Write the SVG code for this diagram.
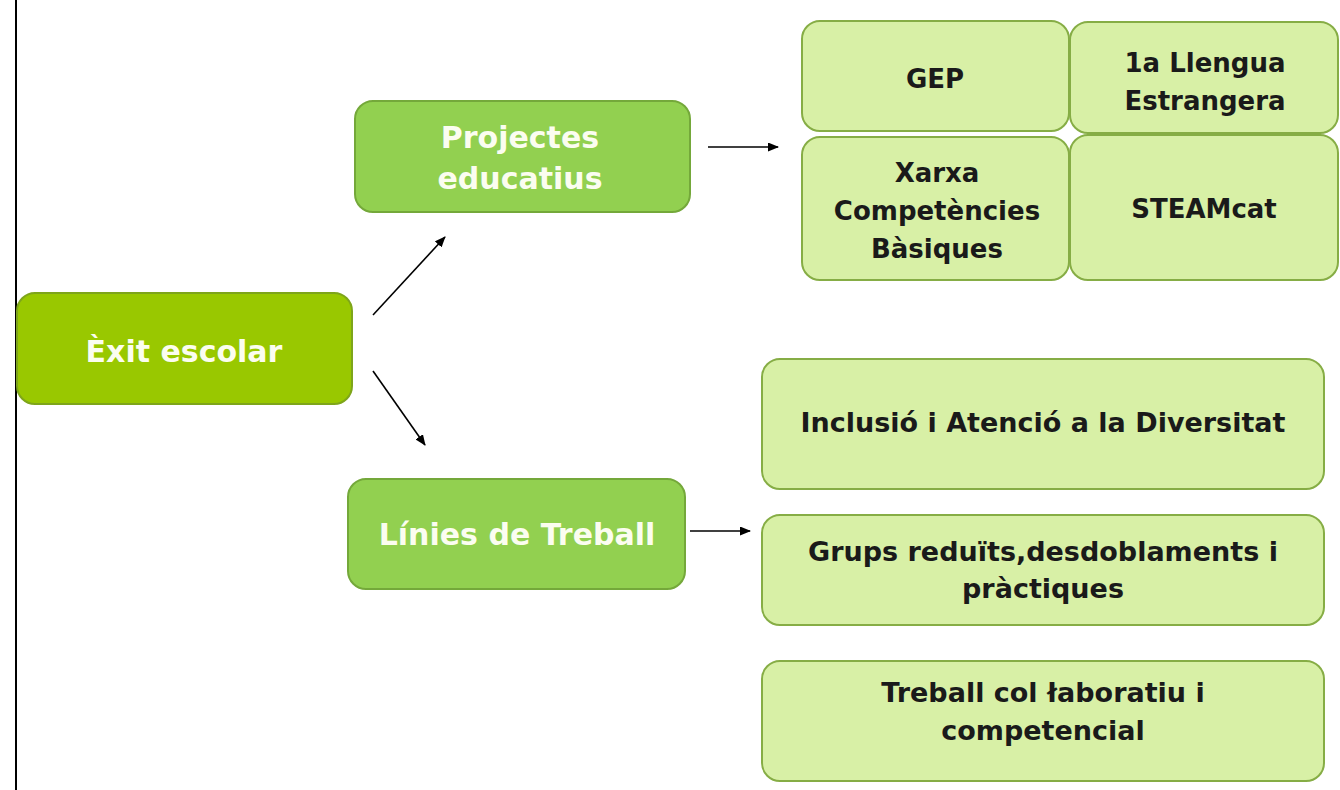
<svg xmlns="http://www.w3.org/2000/svg" width="1340" height="790" viewBox="0 0 1340 790">
<style>
.t{font-family:"DejaVu Sans","Liberation Sans",Arial,sans-serif;font-weight:bold;text-anchor:middle}
.w{fill:#fbfdf0;font-size:30px}
.d{fill:#1a1a1a;font-size:26px}
.e{fill:#1a1a1a;font-size:27px}
.main{fill:#99c800;stroke:#7ea51a;stroke-width:2}
.mid{fill:#92d050;stroke:#74a83a;stroke-width:2}
.leaf{fill:#d8f0a6;stroke:#86ad45;stroke-width:2}
.c{stroke:#000;stroke-width:1.6;fill:none;marker-end:url(#ah)}
</style>
<defs>
<marker id="ah" markerWidth="11" markerHeight="9" refX="10" refY="4.5" orient="auto" markerUnits="userSpaceOnUse">
<path d="M0,0 L11,4.5 L0,9 Z" fill="#000"/>
</marker>
</defs>
<rect width="1340" height="790" fill="#fff"/>
<line x1="16" y1="0" x2="16" y2="790" stroke="#000" stroke-width="2"/>
<g id="connectors">
<line class="c" x1="373" y1="315" x2="445" y2="237"/>
<line class="c" x1="373" y1="371" x2="425" y2="445"/>
<line class="c" x1="708" y1="147" x2="778" y2="147"/>
<line class="c" x1="690" y1="531" x2="750" y2="531"/>
</g>
<g id="exit"><rect class="main" x="17" y="293" width="335" height="111" rx="18"/><text class="t w" x="184" y="362">Èxit escolar</text></g>
<g id="projectes"><rect class="mid" x="355" y="101" width="335" height="111" rx="18"/><text class="t w" x="520" y="148">Projectes</text><text class="t w" x="520" y="189">educatius</text></g>
<g id="linies"><rect class="mid" x="348" y="479" width="337" height="110" rx="18"/><text class="t w" x="517" y="545">Línies de Treball</text></g>
<g id="gep"><rect class="leaf" x="802" y="21" width="267" height="110" rx="18"/><text class="t d" x="935" y="88">GEP</text></g>
<g id="llengua"><rect class="leaf" x="1070" y="22" width="268" height="111" rx="18"/><text class="t d" x="1205" y="72">1a Llengua</text><text class="t d" x="1205" y="110">Estrangera</text></g>
<g id="xarxa"><rect class="leaf" x="802" y="137" width="267" height="143" rx="18"/><text class="t d" x="937" y="182">Xarxa</text><text class="t d" x="937" y="220">Competències</text><text class="t d" x="937" y="258">Bàsiques</text></g>
<g id="steamcat"><rect class="leaf" x="1070" y="135" width="268" height="145" rx="18"/><text class="t d" x="1204" y="218">STEAMcat</text></g>
<g id="inclusio"><rect class="leaf" x="762" y="359" width="562" height="130" rx="18"/><text class="t e" x="1043" y="432">Inclusió i Atenció a la Diversitat</text></g>
<g id="grups"><rect class="leaf" x="762" y="515" width="562" height="110" rx="18"/><text class="t e" x="1043" y="561">Grups reduïts,desdoblaments i</text><text class="t e" x="1043" y="598">pràctiques</text></g>
<g id="treball"><rect class="leaf" x="762" y="661" width="562" height="120" rx="18"/><text class="t e" x="1043" y="702">Treball col łaboratiu i</text><text class="t e" x="1043" y="740">competencial</text></g>
</svg>
